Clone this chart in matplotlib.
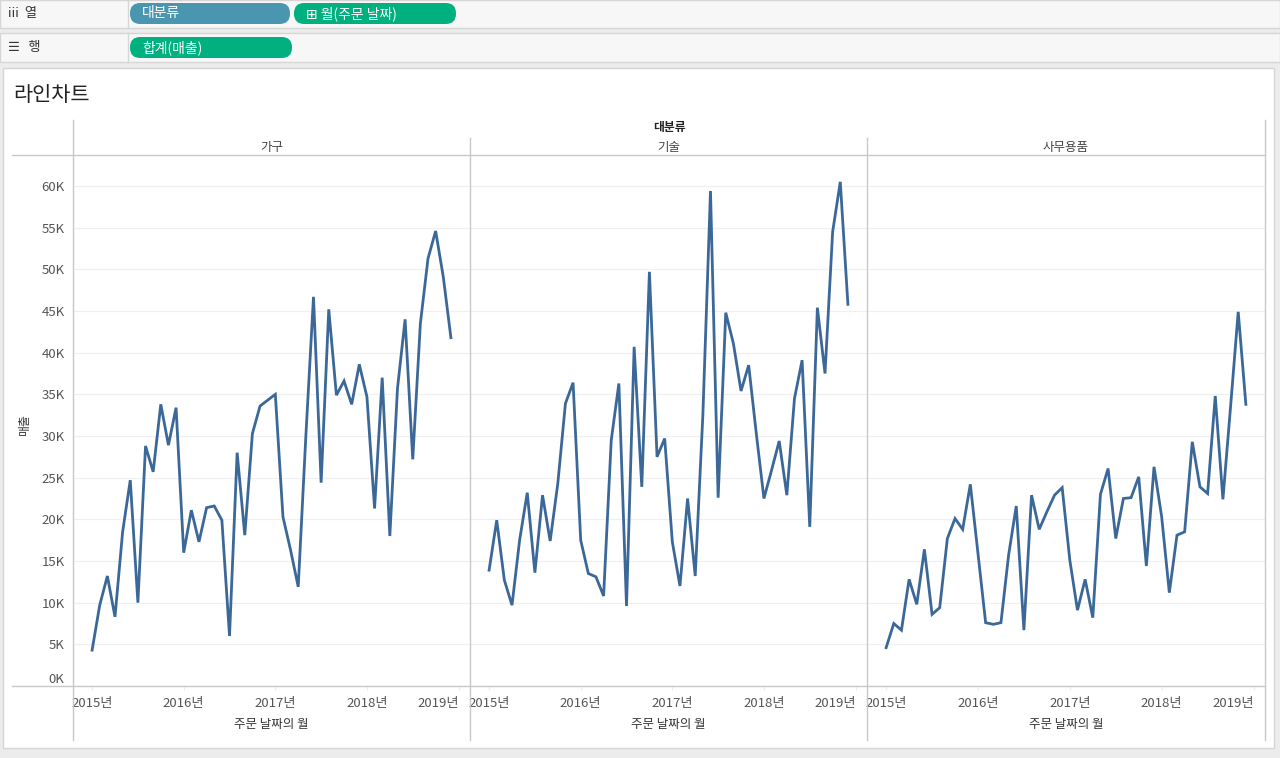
import matplotlib
matplotlib.use('Agg')
import matplotlib.pyplot as plt
from matplotlib.patches import Rectangle, FancyBboxPatch
from matplotlib.lines import Line2D
import matplotlib.ticker as mticker

plt.rcParams['font.family'] = ['Noto Sans CJK KR', 'DejaVu Sans']

# monthly sales, Jan 2015 .. Dec 2018 (thousands)
categories = ['가구', '기술', '사무용품']
furniture = [4.3, 9.7, 13.2, 8.3, 18.5, 24.7, 10.0, 28.8, 25.7, 33.8, 28.9, 33.4,
             16.0, 21.1, 17.3, 21.4, 21.6, 19.9, 6.0, 28.0, 18.1, 30.3, 33.6, 34.3,
             35.0, 20.3, 16.3, 11.9, 30.0, 46.7, 24.4, 45.2, 34.9, 36.6, 33.8, 38.6,
             34.7, 21.3, 37.0, 18.0, 35.7, 44.0, 27.2, 43.5, 51.3, 54.6, 49.1, 41.8]
technology = [13.9, 19.9, 12.7, 9.7, 17.5, 23.2, 13.6, 22.9, 17.4, 24.3, 33.9, 36.4,
              17.5, 13.5, 13.1, 10.8, 29.5, 36.3, 9.6, 40.7, 23.9, 49.7, 27.5, 29.7,
              17.3, 12.0, 22.5, 13.2, 32.5, 59.4, 22.6, 44.8, 41.1, 35.4, 38.5, 30.3,
              22.5, 25.9, 29.4, 22.9, 34.5, 39.1, 19.1, 45.4, 37.5, 54.5, 60.5, 45.8]
office = [4.6, 7.5, 6.7, 12.8, 9.8, 16.4, 8.6, 9.4, 17.7, 20.1, 18.8, 24.2,
          15.9, 7.6, 7.4, 7.6, 15.7, 21.6, 6.7, 22.9, 18.8, 20.9, 22.9, 23.8,
          15.1, 9.1, 12.8, 8.2, 23.0, 26.1, 17.7, 22.5, 22.6, 25.1, 14.4, 26.3,
          20.3, 11.2, 18.1, 18.5, 29.3, 23.9, 23.1, 34.8, 22.4, 33.5, 44.9, 33.8]
series = [furniture, technology, office]
year_labels = ['2015년', '2016년', '2017년', '2018년', '2019년']
y_ticks = [0, 5, 10, 15, 20, 25, 30, 35, 40, 45, 50, 55, 60]

W, H = 1280, 758
fig = plt.figure(figsize=(W / 100, H / 100), dpi=100)
fig.patch.set_facecolor('#ececec')


def box(x0, y0, x1, y1):
    # pixel box (top-left origin) -> figure fraction rect
    return [x0 / W, 1 - y1 / H, (x1 - x0) / W, (y1 - y0) / H]


def rect(x0, y0, x1, y1, fc, ec='none', lw=1):
    fig.patches.append(Rectangle((x0 / W, 1 - y1 / H), (x1 - x0) / W, (y1 - y0) / H,
                                 transform=fig.transFigure, facecolor=fc,
                                 edgecolor=ec, linewidth=lw, zorder=0))


def hline(y, x0, x1, c='#c8c8c8', lw=1.0):
    fig.add_artist(Line2D([x0 / W, x1 / W], [1 - y / H, 1 - y / H],
                          transform=fig.transFigure, color=c, lw=lw, zorder=5))


def vline(x, y0, y1, c='#c8c8c8', lw=1.0):
    fig.add_artist(Line2D([x / W, x / W], [1 - y0 / H, 1 - y1 / H],
                          transform=fig.transFigure, color=c, lw=lw, zorder=5))


def pill(x0, y0, x1, y1, color, text):
    h = y1 - y0
    fig.patches.append(FancyBboxPatch((x0 / W, 1 - y1 / H), (x1 - x0) / W, h / H,
                                      boxstyle='round,pad=0,rounding_size=0.008',
                                      mutation_aspect=W / H,
                                      transform=fig.transFigure, facecolor=color,
                                      edgecolor='none', zorder=2))
    fig.text((x0 + 12) / W, 1 - (y0 + h / 2) / H, text, color='white',
             fontsize=10, va='center', ha='left', zorder=3)


# shelves
rect(0, 0, 1280, 28, '#f7f7f7', '#d6d6d6')
rect(0, 33, 1280, 62, '#f7f7f7', '#d6d6d6')
vline(128, 0, 28, '#d6d6d6')
vline(128, 33, 62, '#d6d6d6')
fig.text(8 / W, 1 - 14 / H, 'iii  열', fontsize=9.5, va='center', color='#333333')
fig.text(8 / W, 1 - 47 / H, '☰  행', fontsize=9.5, va='center', color='#333333',
         family=['DejaVu Sans', 'Noto Sans CJK KR'])
pill(130, 3, 290, 24, '#4a96b0', '대분류')
pill(294, 3, 456, 24, '#00b07f', '⊞ 월(주문 날짜)')
pill(130, 37, 292, 58, '#00b07f', '합계(매출)')

# chart area
rect(3, 68, 1274, 748, 'white', '#d6d6d6')
fig.text(13 / W, 1 - 95 / H, '라인차트', fontsize=15, va='center', ha='left', color='#222222')
fig.text(669 / W, 1 - 128 / H, '대분류', fontsize=8.5, va='center', ha='center',
         color='#222222', fontweight='bold')
fig.text(25 / W, 1 - 425 / H, '매출', fontsize=8.5, va='center', ha='center',
         rotation=90, color='#333333')

panel_x = [73, 470, 867, 1265]
months = list(range(48))
for k, name in enumerate(categories):
    x0, x1 = panel_x[k], panel_x[k + 1]
    ax = fig.add_axes(box(x0, 155, x1, 686))
    ax.set_zorder(3)
    ax.patch.set_visible(False)
    ax.plot(months, [v * 1000 for v in series[k]], color='#3b6898', lw=2.0,
            solid_joinstyle='miter', zorder=3)
    ax.set_xlim(-2.5, 49.5)
    ax.set_ylim(0, 63720)
    for s in ax.spines.values():
        s.set_visible(False)
    ax.set_yticks([v * 1000 for v in y_ticks])
    ax.grid(axis='y', color='#f0f0f0', lw=0.9)
    ax.set_axisbelow(True)
    if k == 0:
        ax.yaxis.set_major_formatter(mticker.FuncFormatter(lambda v, p: f'{int(v / 1000)}K'))
        ax.tick_params(axis='y', length=0, labelsize=9.5, labelcolor='#555555', pad=6)
        ylabs = ax.get_yticklabels()
        ylabs[0].set_va('bottom')
    else:
        ax.tick_params(axis='y', length=0, labelleft=False)
    ax.set_xticks([0, 12, 24, 36, 48])
    ax.set_xticklabels(year_labels)
    ax.tick_params(axis='x', length=3, color='#eeeeee', labelsize=9.5, labelcolor='#555555', pad=5)
    labs = ax.get_xticklabels()
    labs[-1].set_ha('right')
    ax.set_xlabel('주문 날짜의 월', fontsize=9, color='#333333', labelpad=6)
    fig.text((x0 + x1) / 2 / W, 1 - 147 / H, name, fontsize=9, va='center',
             ha='center', color='#444444')

# frame lines
hline(155, 12, 1265)
hline(686, 12, 1265)
vline(73, 120, 740)
vline(470, 138, 740)
vline(867, 138, 740)
vline(1265, 120, 740)

fig.savefig('out.png', dpi=100, facecolor=fig.get_facecolor())
